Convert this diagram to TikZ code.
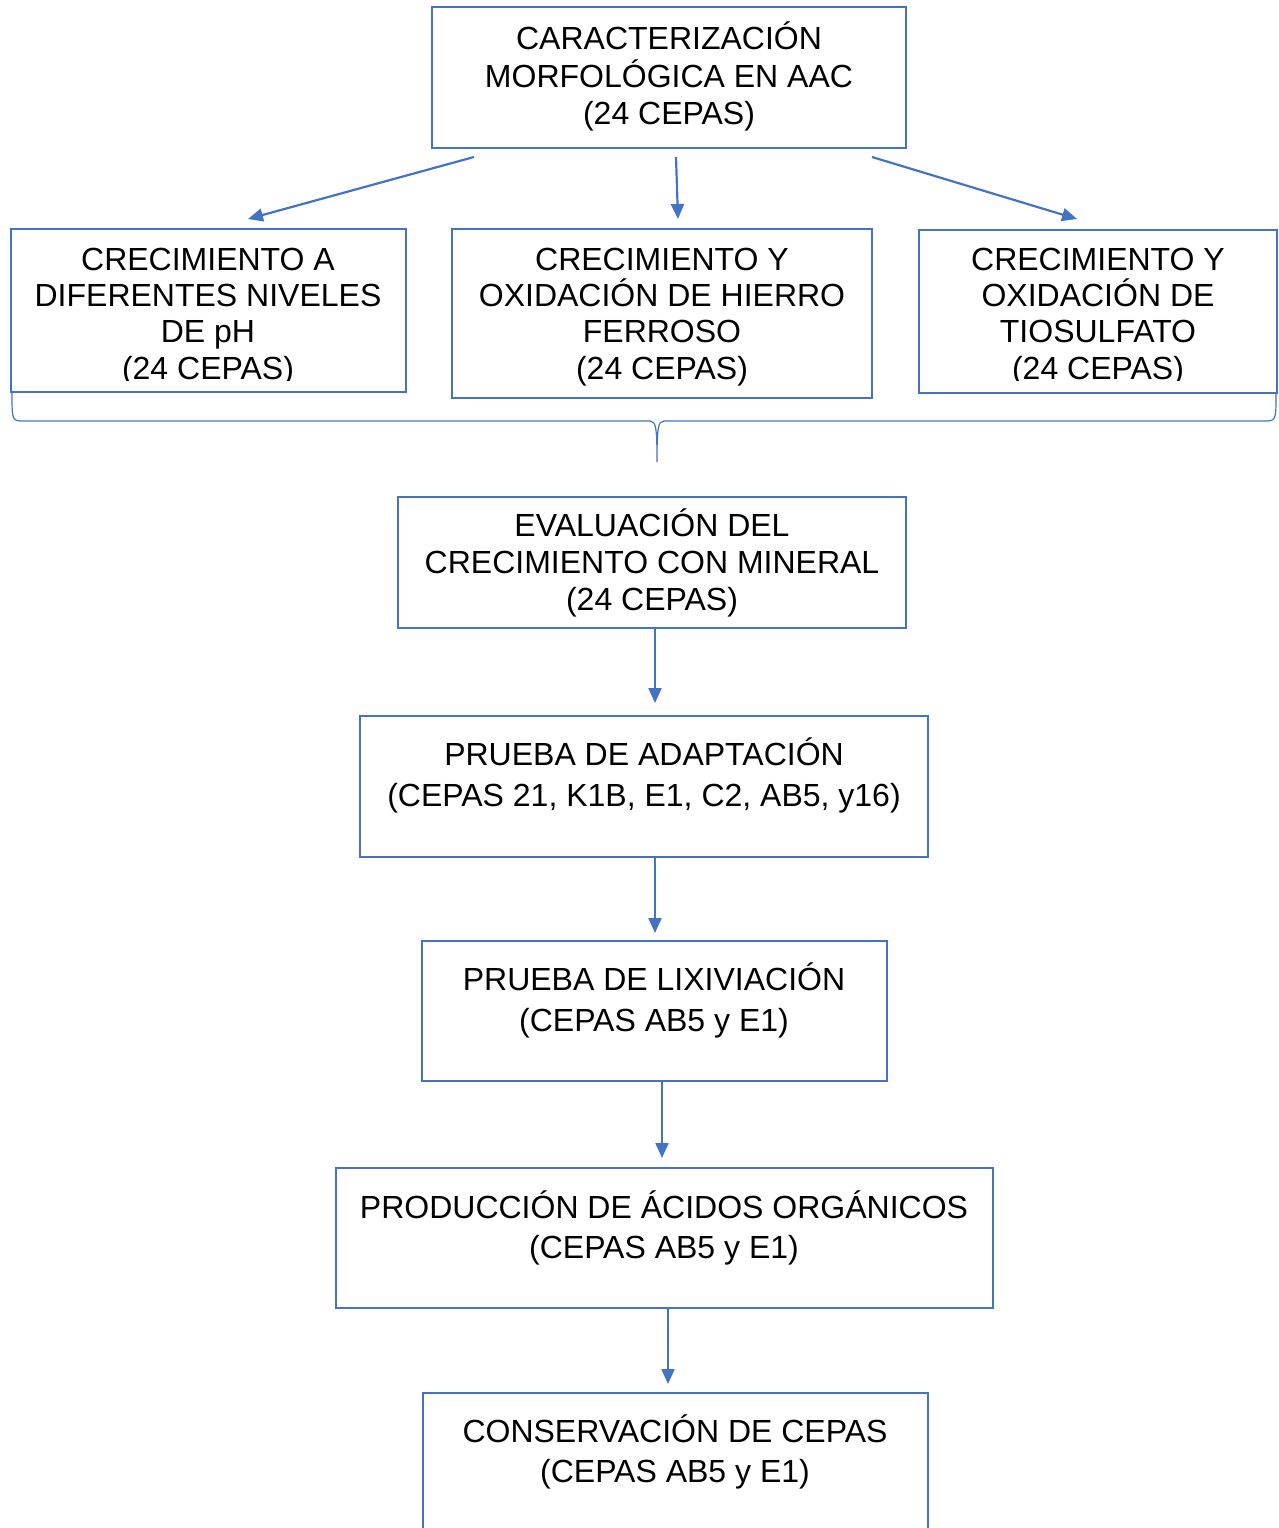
\documentclass[tikz,border=0pt]{standalone}
\usepackage{fontspec}
\setmainfont{Liberation Sans}
\usetikzlibrary{arrows.meta}
\definecolor{bl}{HTML}{4472C4}
\begin{document}
\begin{tikzpicture}[x=1pt,y=-1pt,
  box/.style={draw=bl,line width=2pt},
  txt/.style={anchor=base,inner sep=0pt,font=\fontsize{32}{38}\selectfont},
  arr/.style={draw=bl,line width=2.2pt,-{Triangle[length=15pt,width=13pt]}},
  brace/.style={draw=bl,line width=1.2pt}]
\useasboundingbox (0,0) rectangle (1278,1528);
% boxes
\draw[box] (432,7) rectangle (906,148);
\node[txt] (t1a) at (669,50) {CARACTERIZACIÓN};
\node[txt] (t1b) at (669,87) {MORFOLÓGICA EN AAC};
\node[txt] (t1c) at (669,124) {(24 CEPAS)};

\draw[box] (11,229) rectangle (406,392);
\begin{scope}
\clip (11,229) rectangle (406,380);
\node[txt] (t2a) at (208,270) {CRECIMIENTO A};
\node[txt] (t2b) at (208,306) {DIFERENTES NIVELES};
\node[txt] (t2c) at (208,342) {DE pH};
\node[txt] (t2d) at (208,379) {(24 CEPAS)};
\end{scope}

\draw[box] (452,229) rectangle (872,398);
\node[txt] (t3a) at (662,270) {CRECIMIENTO Y};
\node[txt] (t3b) at (662,306) {OXIDACIÓN DE HIERRO};
\node[txt] (t3c) at (662,342) {FERROSO};
\node[txt] (t3d) at (662,379) {(24 CEPAS)};

\draw[box] (919,230) rectangle (1277,393);
\begin{scope}
\clip (919,230) rectangle (1277,380);
\node[txt] (t4a) at (1098,270) {CRECIMIENTO Y};
\node[txt] (t4b) at (1098,306) {OXIDACIÓN DE};
\node[txt] (t4c) at (1098,342) {TIOSULFATO};
\node[txt] (t4d) at (1098,379) {(24 CEPAS)};
\end{scope}

% brace
\draw[brace] (12,393) .. controls (12,421) .. (24,421) -- (650,421)
  .. controls (656,421) and (657,428) .. (657,462)
  .. controls (657,428) and (658,421) .. (664,421) -- (1264,421)
  .. controls (1276,421) .. (1276,393);

\draw[box] (398,497) rectangle (906,628);
\node[txt] (t5a) at (652,536) {EVALUACIÓN DEL};
\node[txt] (t5b) at (652,573) {CRECIMIENTO CON MINERAL};
\node[txt] (t5c) at (652,610) {(24 CEPAS)};

\draw[box] (360,716) rectangle (928,857);
\node[txt] (t6a) at (644,765) {PRUEBA DE ADAPTACIÓN};
\node[txt] (t6b) at (644,806) {(CEPAS 21, K1B, E1, C2, AB5, y16)};

\draw[box] (422,941) rectangle (887,1081);
\node[txt] (t7a) at (654,990) {PRUEBA DE LIXIVIACIÓN};
\node[txt] (t7b) at (654,1031) {(CEPAS AB5 y E1)};

\draw[box] (336,1168) rectangle (993,1308);
\node[txt] (t8a) at (664,1218) {PRODUCCIÓN DE ÁCIDOS ORGÁNICOS};
\node[txt] (t8b) at (664,1258) {(CEPAS AB5 y E1)};

\draw[box] (423,1540) -- (423,1393) -- (928,1393) -- (928,1540);
\node[txt] (t9a) at (675,1442) {CONSERVACIÓN DE CEPAS};
\node[txt] (t9b) at (675,1482) {(CEPAS AB5 y E1)};

% connectors
\coordinate (s1) at (474,157); \coordinate (e1) at (248,219);
\coordinate (s2) at (676,157); \coordinate (e2) at (678,219);
\coordinate (s3) at (872,157); \coordinate (e3) at (1077,219);
\draw[arr] (s1) -- (e1);
\draw[arr] (s2) -- (e2);
\draw[arr] (s3) -- (e3);
\coordinate (s4) at (655,628); \coordinate (e4) at (655,703);
\coordinate (s5) at (655,857); \coordinate (e5) at (655,933);
\coordinate (s6) at (662,1081); \coordinate (e6) at (662,1158);
\coordinate (s7) at (668,1308); \coordinate (e7) at (668,1384);
\draw[arr] (s4) -- (e4);
\draw[arr] (s5) -- (e5);
\draw[arr] (s6) -- (e6);
\draw[arr] (s7) -- (e7);
\end{tikzpicture}
\end{document}
